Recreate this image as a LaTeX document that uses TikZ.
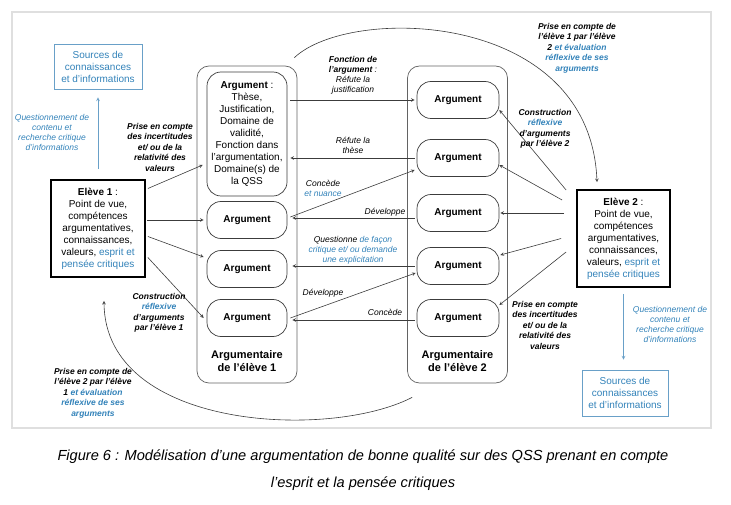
\documentclass[tikz,border=0pt]{standalone}
\usepackage{fontspec}
\setmainfont{Liberation Sans}
\definecolor{critblue}{RGB}{50,130,185}
\definecolor{srcblue}{RGB}{105,160,200}
\definecolor{linegray}{RGB}{60,60,60}
\newcommand{\cb}[1]{\textcolor{critblue}{#1}}

\begin{document}
\begin{tikzpicture}[x=1pt, y=-1pt, >=stealth,
    arrow/.style={->, line width=0.6pt, draw=linegray},
    bluearrow/.style={->, line width=0.7pt, draw=srcblue},
    argbox/.style={draw=linegray, line width=0.7pt, rounded corners=14pt, minimum width=80pt, minimum height=37pt, align=center, font=\fontsize{10}{12}\selectfont},
    panel/.style={draw=linegray!80, line width=0.7pt, rounded corners=12pt, minimum width=100pt, minimum height=317pt},
    elevebox/.style={draw=black, line width=1.8pt, minimum width=94pt, minimum height=97pt, align=center, font=\fontsize{10}{12}\selectfont},
    srcbox/.style={draw=srcblue, line width=0.7pt, text=critblue, minimum width=88pt, minimum height=45pt, align=center, font=\fontsize{10}{12}\selectfont},
    fn/.style={align=center, font=\fontsize{8.5}{10}\selectfont\itshape},
    fnbold/.style={align=center, font=\fontsize{8.5}{10.5}\selectfont\bfseries\itshape},
    quest/.style={align=center, text=critblue, font=\fontsize{8.5}{10}\selectfont\itshape}]
    \useasboundingbox (0,0) rectangle (731,505);
    \draw [gray!25, line width=1.2pt] (12,12) rectangle (711,428);

    % les deux argumentaires
    \node [panel] (pan1) at (247,224.5) {};
    \node [panel] (pan2) at (457.5,224.5) {};
    \node [font=\fontsize{11}{13}\selectfont\bfseries, align=center] (tit1) at (247,361) {Argumentaire\\de l’élève 1};
    \node [font=\fontsize{11}{13}\selectfont\bfseries, align=center] (tit2) at (457.5,361) {Argumentaire\\de l’élève 2};

    \node [argbox, minimum height=124pt] (big) at (247,134) {\textbf{Argument} :\\Thèse,\\Justification,\\Domaine de\\validité,\\Fonction dans\\l'argumentation,\\Domaine(s) de\\la QSS};
    \node [argbox] (a1) at (247,220) {\textbf{Argument}};
    \node [argbox] (a2) at (247,269) {\textbf{Argument}};
    \node [argbox] (a3) at (247,318) {\textbf{Argument}};

    \node [argbox, minimum width=82pt] (r1) at (458,100) {\textbf{Argument}};
    \node [argbox, minimum width=82pt] (r2) at (458,158) {\textbf{Argument}};
    \node [argbox, minimum width=82pt] (r3) at (458,213) {\textbf{Argument}};
    \node [argbox, minimum width=82pt] (r4) at (458,266) {\textbf{Argument}};
    \node [argbox, minimum width=82pt] (r5) at (458,318) {\textbf{Argument}};

    % les eleves et les sources
    \node [elevebox] (el1) at (98,228.5) {\textbf{Elève 1} :\\Point de vue,\\compétences\\argumentatives,\\connaissances,\\valeurs, \cb{esprit et}\\\cb{pensée critiques}};
    \node [elevebox, minimum width=93pt] (el2) at (623.5,238.5) {\textbf{Elève 2} :\\Point de vue,\\compétences\\argumentatives,\\connaissances,\\valeurs, \cb{esprit et}\\\cb{pensée critiques}};
    \node [srcbox] (src1) at (98,66.5) {Sources de\\connaissances\\et d'informations};
    \node [srcbox, minimum width=86pt, minimum height=46pt] (src2) at (625,393) {Sources de\\connaissances\\et d'informations};

    \draw [bluearrow] ([yshift=10pt]el1.north) -- ([yshift=-8pt]src1.south);
    \draw [bluearrow] ([yshift=-6pt]el2.south) -- ([xshift=-1.5pt, yshift=10pt]src2.north);
    \node [quest] (q1) at (52,132) {Questionnement de\\contenu et\\recherche critique\\d'informations};
    \node [quest] (q2) at (670,324) {Questionnement de\\contenu et\\recherche critique\\d'informations};

    % eleve 1 -> argumentaire 1
    \draw [arrow] ([xshift=2pt, yshift=40pt]el1.east) -- ([xshift=-4pt, yshift=-31pt]big.west);
    \draw [arrow] ([xshift=1pt, yshift=8.5pt]el1.east) -- ([xshift=-3pt]a1.west);
    \draw [arrow] ([xshift=2pt, yshift=-8pt]el1.east) -- ([xshift=-3pt, yshift=12pt]a2.west);
    \draw [arrow] ([xshift=2pt, yshift=-29pt]el1.east) -- ([xshift=-3pt]a3.west);
    \node [fnbold] (prise1) at (160,147) {Prise en compte\\des incertitudes\\et/ ou de la\\relativité des\\valeurs};
    \node [fnbold] (constr1) at (159,313) {Construction\\\cb{réflexive}\\d'arguments\\par l’élève 1};

    % eleve 2 -> argumentaire 2
    \draw [arrow] ([xshift=-10pt, yshift=48.5pt]el2.west) -- ([yshift=-10pt]r1.east);
    \draw [arrow] ([xshift=-14pt, yshift=38.5pt]el2.west) -- ([yshift=-7pt]r2.east);
    \draw [arrow] ([xshift=-12pt, yshift=25.5pt]el2.west) -- ([xshift=1pt]r3.east);
    \draw [arrow] ([xshift=-15pt]el2.west) -- ([xshift=1pt, yshift=11pt]r4.east);
    \draw [arrow] ([xshift=-10pt, yshift=-13.5pt]el2.west) -- ([yshift=13pt]r5.east);
    \node [fnbold] (constr2) at (545,129) {Construction\\\cb{réflexive}\\d'arguments\\par l’élève 2};
    \node [fnbold] (prise2) at (545,325) {Prise en compte\\des incertitudes\\et/ ou de la\\relativité des\\valeurs};

    % echanges entre les argumentaires
    \draw [arrow] ([xshift=3pt, yshift=34pt]big.east) -- ([xshift=-2pt]r1.west);
    \draw [arrow] ([xshift=-2pt]r2.west) -- ([xshift=3pt, yshift=-24pt]big.east);
    \draw [arrow] ([xshift=3pt, yshift=3pt]a1.east) -- ([xshift=-2pt, yshift=-12pt]r2.west);
    \draw [arrow] ([xshift=-2pt, yshift=-5pt]r3.west) -- ([xshift=5pt, yshift=2pt]a1.east);
    \draw [arrow] ([xshift=-2pt]r4.west) -- ([xshift=5pt, yshift=3pt]a2.east);
    \draw [arrow] ([xshift=3pt]a3.east) -- ([xshift=-1pt, yshift=-7pt]r4.west);
    \draw [arrow] ([xshift=-2pt, yshift=-2pt]r5.west) -- ([xshift=5pt, yshift=-2pt]a3.east);
    \node [fn] (fonction) at (353,75) {\textbf{Fonction de}\\\textbf{l'argument} :\\Réfute la\\justification};
    \node [fn] (these) at (353,145) {Réfute la\\thèse};
    \node [fn] (concede1) at (323,188) {Concède\\\cb{et nuance}};
    \node [fn] (dev1) at (385,212) {Développe};
    \node [fn] (question) at (353,250) {Questionne \cb{de façon}\\\cb{critique et/ ou demande}\\\cb{une explicitation}};
    \node [fn] (dev2) at (323,293) {Développe};
    \node [fn] (concede2) at (385,312) {Concède};

    % prises en compte mutuelles
    \draw [arrow] ([xshift=-3pt, yshift=8pt]pan1.north east) .. controls (350,5) and (590,10) .. ([xshift=-26.5pt, yshift=7pt]el2.north);
    \node [fnbold] (mutuel2) at (577,48) {Prise en compte de\\l’élève 1 par l’élève\\2 \cb{et évaluation}\\\cb{réflexive de ses}\\\cb{arguments}};
    \draw [arrow] ([xshift=5pt, yshift=-14pt]pan2.south west) .. controls (330,440) and (105,430) .. ([xshift=6pt, yshift=-23pt]el1.south);
    \node [fnbold] (mutuel1) at (93,393) {Prise en compte de\\l’élève 2 par l’élève\\1 \cb{et évaluation}\\\cb{réflexive de ses}\\\cb{arguments}};

    \node [font=\fontsize{14.6}{27}\selectfont\itshape, align=center] (caption) at (363,470) {Figure 6 : Modélisation d'une argumentation de bonne qualité sur des QSS prenant en compte\\l'esprit et la pensée critiques};
\end{tikzpicture}
\end{document}
